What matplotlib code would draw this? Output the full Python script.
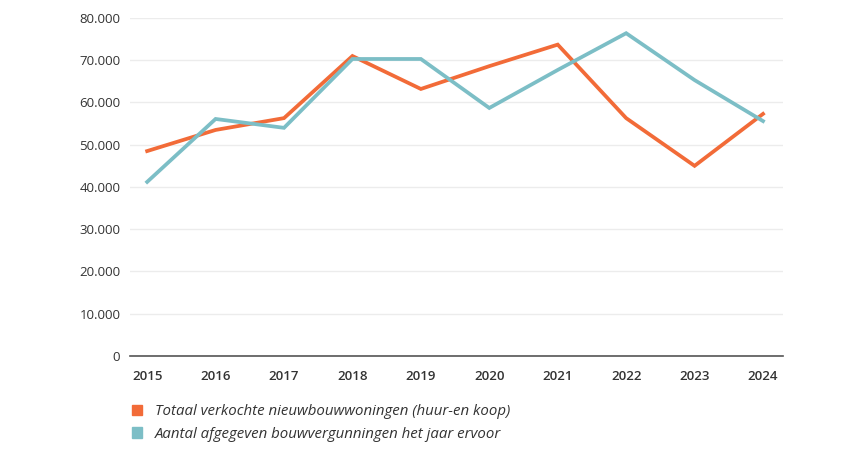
import matplotlib
matplotlib.use("Agg")
import matplotlib.pyplot as plt
from matplotlib.patches import Patch
from matplotlib.ticker import FuncFormatter

plt.rcParams['font.family'] = ['Open Sans', 'DejaVu Sans']

years = [2015, 2016, 2017, 2018, 2019, 2020, 2021, 2022, 2023, 2024]
verkocht = [48500, 53500, 56300, 71000, 63200, 68600, 73700, 56300, 45000, 57300]
vergunningen = [41200, 56100, 54000, 70300, 70300, 58700, 67700, 76400, 65300, 55600]
labels = ["Totaal verkochte nieuwbouwwoningen (huur-en koop)",
          "Aantal afgegeven bouwvergunningen het jaar ervoor"]
orange = "#F26B38"
teal = "#7CBEC6"

fig = plt.figure(figsize=(8.5, 4.5), dpi=100)
ax = fig.add_axes([0.153, 0.209, 0.768, 0.751])

ax.plot(years, verkocht, color=orange, lw=2.7, solid_joinstyle='miter', zorder=3)
ax.plot(years, vergunningen, color=teal, lw=2.7, solid_joinstyle='miter', zorder=4)

ax.set_ylim(0, 80000)
ax.set_xlim(2014.75, 2024.29)
ax.set_yticks(range(0, 80001, 10000))
ax.yaxis.set_major_formatter(FuncFormatter(lambda v, p: "0" if v == 0 else f"{int(v):,}".replace(",", ".")))
ax.set_xticks(years)
ax.grid(axis='y', color='#ececec', lw=1)
ax.set_axisbelow(True)
for s in ['top', 'right', 'left']:
    ax.spines[s].set_visible(False)
ax.spines['bottom'].set_color('#555555')
ax.spines['bottom'].set_linewidth(1.2)
ax.tick_params(axis='both', length=0, colors='#333333', labelsize=9.5)
ax.tick_params(axis='y', pad=7)
ax.tick_params(axis='x', pad=10)
for t in ax.get_xticklabels():
    t.set_fontweight('semibold')

handles = [Patch(color=orange), Patch(color=teal)]
leg = fig.legend(handles, labels, loc='upper left', bbox_to_anchor=(0.148, 0.115),
                 frameon=False, handlelength=0.7, handleheight=0.7, handletextpad=0.85,
                 labelspacing=0.5, prop={'style': 'italic', 'size': 10.8}, borderaxespad=0)
for t in leg.get_texts():
    t.set_color('#333333')

fig.savefig("out.png", dpi=100, facecolor='white')
